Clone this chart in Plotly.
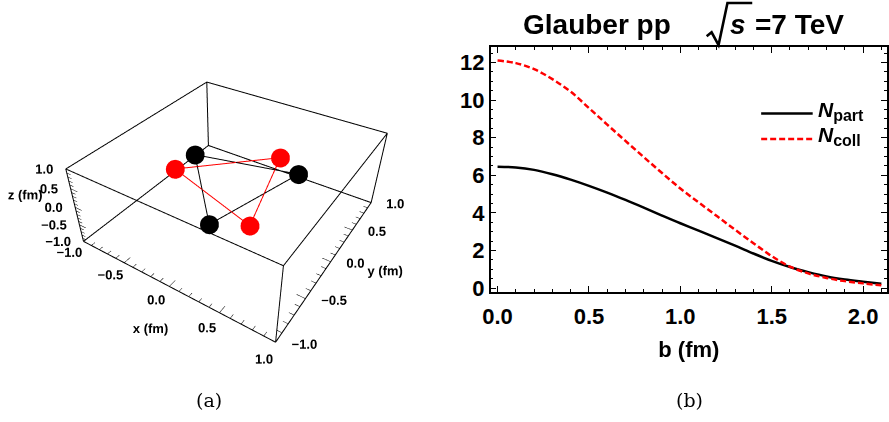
import itertools
import numpy as np
import plotly.graph_objects as go

# ---- Panel (a): one Glauber pp event, quark hot spots of the two protons (fm)
proton1_x = [-0.63, 0.39, 0.10]
proton1_y = [0.25, 0.51, -0.55]
proton1_z = [0.0, 0.0, 0.0]
proton2_x = [-0.64, 0.11, 0.39]
proton2_y = [-0.06, 0.67, -0.38]
proton2_z = [0.0, 0.0, 0.0]

box_range = [-1.0, 1.0]
box_labels = [-1.0, -0.5, 0.0, 0.5, 1.0]

# ---- Panel (b): N_part and N_coll versus impact parameter b
b_fm = [0.0, 0.1, 0.2, 0.3, 0.4, 0.5, 0.6, 0.7, 0.8, 0.9, 1.0,
        1.1, 1.2, 1.3, 1.4, 1.5, 1.6, 1.7, 1.8, 1.9, 2.0, 2.1]
n_part = [6.46, 6.42, 6.29, 6.06, 5.77, 5.44, 5.08, 4.69, 4.28, 3.86, 3.45,
          3.06, 2.66, 2.26, 1.84, 1.45, 1.12, 0.85, 0.62, 0.46, 0.34, 0.23]
n_coll = [12.11, 11.97, 11.65, 11.12, 10.45, 9.58, 8.70, 7.83, 6.97, 6.12, 5.30,
          4.56, 3.83, 3.10, 2.39, 1.70, 1.14, 0.78, 0.54, 0.37, 0.25, 0.15]

W, H = 889, 422
FONT = "Liberation Sans"
LABEL_FONT = dict(family=FONT, size=13, color="black", weight="bold")
lo, hi = box_range

fig = go.Figure()


def seg3d(pairs):
    xs, ys, zs = [], [], []
    for p, q in pairs:
        xs += [p[0], q[0], None]
        ys += [p[1], q[1], None]
        zs += [p[2], q[2], None]
    return xs, ys, zs


# ---- 3D bounding box (all 12 edges)
corners = list(itertools.product(box_range, repeat=3))
edges = [(c1, c2) for c1, c2 in itertools.combinations(corners, 2)
         if sum(a != b for a, b in zip(c1, c2)) == 1]
ex, ey, ez = seg3d(edges)
fig.add_trace(go.Scatter3d(x=ex, y=ey, z=ez, mode="lines",
                           line=dict(color="black", width=2),
                           hoverinfo="skip", showlegend=False, scene="scene"))

# ---- tick marks on the three labelled edges (major at labels, minor every 0.1)
tick_vals = [round(v, 1) for v in np.arange(lo, hi + 0.05, 0.1)]
ticks = []
for v in tick_vals:
    L = 0.08 if any(abs(v - m) < 1e-9 for m in box_labels) else 0.045
    ticks.append(((v, lo, lo), (v, lo + L, lo)))      # x edge
    ticks.append(((hi, v, lo), (hi - L, v, lo)))      # y edge
    ticks.append(((lo, lo, v), (lo + L, lo, v)))      # z edge
tx, ty, tz = seg3d(ticks)
fig.add_trace(go.Scatter3d(x=tx, y=ty, z=tz, mode="lines",
                           line=dict(color="black", width=1),
                           hoverinfo="skip", showlegend=False, scene="scene"))


def closed(v):
    return list(v) + [v[0]]


for xs, ys, zs, col in [(proton1_x, proton1_y, proton1_z, "black"),
                        (proton2_x, proton2_y, proton2_z, "#ff0000")]:
    fig.add_trace(go.Scatter3d(x=closed(xs), y=closed(ys), z=closed(zs),
                               mode="lines", line=dict(color=col, width=2),
                               hoverinfo="skip", showlegend=False, scene="scene"))
    fig.add_trace(go.Scatter3d(x=xs, y=ys, z=zs, mode="markers",
                               marker=dict(color=col, size=11, line=dict(width=0)),
                               showlegend=False, scene="scene"))


def fmt(v):
    s = f"{abs(v):.1f}"
    return ("\u2212" + s) if v < 0 else s


n = len(box_labels)
label_text = [fmt(v) for v in box_labels]

# tick labels, kept horizontal on screen
fig.add_trace(go.Scatter3d(x=box_labels, y=[lo - 0.17] * n, z=[lo] * n, mode="text",
                           text=label_text, textposition="middle center", textfont=LABEL_FONT,
                           hoverinfo="skip", showlegend=False, scene="scene"))
fig.add_trace(go.Scatter3d(x=[hi + 0.03] * n, y=box_labels, z=[lo] * n, mode="text",
                           text=label_text, textposition="middle right", textfont=LABEL_FONT,
                           hoverinfo="skip", showlegend=False, scene="scene"))
fig.add_trace(go.Scatter3d(x=[lo] * n, y=[lo] * n, z=box_labels, mode="text",
                           text=label_text, textposition="middle left", textfont=LABEL_FONT,
                           hoverinfo="skip", showlegend=False, scene="scene"))
# axis titles
fig.add_trace(go.Scatter3d(x=[0.15, hi + 0.22, lo - 0.25], y=[lo - 0.42, 0.0, lo],
                           z=[lo, lo, 0.05], mode="text",
                           text=["x (fm)", "y (fm)", "z (fm)"],
                           textposition=["middle center", "middle right", "middle left"],
                           textfont=LABEL_FONT, hoverinfo="skip", showlegend=False,
                           scene="scene"))

# scene extent: room around the box for the labels, same scale per fm as the box
PAD_XY, PAD_Z = 1.75, 1.05
hidden = dict(visible=False, showspikes=False, autorange=False)

# ---- Panel (b) curves
fig.add_trace(go.Scatter(x=b_fm, y=n_part, mode="lines", line_shape="spline",
                         line=dict(color="black", width=2.5), showlegend=False,
                         name="N_part"))
fig.add_trace(go.Scatter(x=b_fm, y=n_coll, mode="lines", line_shape="spline",
                         line=dict(color="#ff0000", width=2.5, dash="6px,3px"),
                         showlegend=False, name="N_coll"))

axis_common = dict(showline=True, linecolor="black", linewidth=1.6, mirror="ticks",
                   ticks="inside", ticklen=6, tickwidth=1.3, tickcolor="black",
                   showgrid=False, zeroline=False,
                   tickfont=dict(family=FONT, size=22, color="black", weight="bold"))


def px_x(v):
    return v / W


def px_y(v):
    return 1 - v / H


# legend drawn in the upper right of panel (b)
legend_rows = [("<b><i>N</i><sub><span style='font-size:16px'>part</span></sub></b>",
                dict(color="black", width=2.5), 116),
               ("<b><i>N</i><sub><span style='font-size:16px'>coll</span></sub></b>",
                dict(color="#ff0000", width=2.5, dash="6px,3px"), 142)]
shapes, annotations = [], []
for text, line, ypx in legend_rows:
    shapes.append(dict(type="line", xref="paper", yref="paper",
                       x0=px_x(760), x1=px_x(812), y0=px_y(ypx), y1=px_y(ypx), line=line))
    annotations.append(dict(text=text, x=px_x(815), y=px_y(ypx - 3), xref="paper",
                            yref="paper", showarrow=False, xanchor="left", yanchor="middle",
                            font=dict(family=FONT, size=21, color="black")))

# title: Glauber pp sqrt(s) = 7 TeV, with a drawn radical sign
TITLE_FONT = dict(family=FONT, size=28, color="black")
annotations += [
    dict(text="<b>Glauber pp</b>", x=px_x(671), y=px_y(25), xref="paper", yref="paper",
         showarrow=False, xanchor="right", yanchor="middle", font=TITLE_FONT),
    dict(text="<b><i>s</i></b>", x=px_x(737), y=px_y(25), xref="paper", yref="paper",
         showarrow=False, xanchor="center", yanchor="middle", font=TITLE_FONT),
    dict(text="<b>=7 TeV</b>", x=px_x(752), y=px_y(25), xref="paper", yref="paper",
         showarrow=False, xanchor="left", yanchor="middle", font=TITLE_FONT),
]
radical = [(705, 37), (710, 33), (717, 46), (726, 3), (751, 3)]
shapes.append(dict(type="path", xref="paper", yref="paper",
                   path="M " + " L ".join(f"{px_x(a):.5f},{px_y(b):.5f}" for a, b in radical),
                   line=dict(color="black", width=2.6)))

annotations += [
    dict(text="(a)", x=px_x(203), y=px_y(409), xref="paper", yref="paper",
         showarrow=False, xanchor="center", yanchor="middle",
         font=dict(family="DejaVu Serif", size=19, color="black")),
    dict(text="(b)", x=px_x(688), y=px_y(409), xref="paper", yref="paper",
         showarrow=False, xanchor="center", yanchor="middle",
         font=dict(family="DejaVu Serif", size=19, color="black")),
]

fig.update_layout(
    width=W, height=H, margin=dict(l=0, r=0, t=0, b=0),
    paper_bgcolor="white", plot_bgcolor="white", showlegend=False,
    scene=dict(domain=dict(x=[0.0, 0.495], y=[0.02, 1.0]),
               xaxis=dict(range=[-PAD_XY, PAD_XY], **hidden),
               yaxis=dict(range=[-PAD_XY, PAD_XY], **hidden),
               zaxis=dict(range=[-PAD_Z, PAD_Z], **hidden),
               aspectmode="manual",
               aspectratio=dict(x=PAD_XY, y=PAD_XY, z=0.4 * PAD_Z),
               camera=dict(eye=dict(x=0.952, y=-1.523, z=1.322),
                           center=dict(x=-0.025, y=-0.034, z=-0.075),
                           up=dict(x=0, y=0, z=1)),
               bgcolor="rgba(0,0,0,0)"),
    xaxis=dict(domain=[487 / W, 887 / W], range=[-0.038, 2.131],
               tickvals=[0.0, 0.5, 1.0, 1.5, 2.0], tickformat=".1f", ticklabelstandoff=4,
               minor=dict(ticks="inside", ticklen=3, dtick=0.1, tickcolor="black", tickwidth=1.2),
               title=dict(text="<b>b (fm)</b>", standoff=14,
                          font=dict(family=FONT, size=22, color="black")),
               **axis_common),
    yaxis=dict(domain=[1 - 298 / H, 1 - 48 / H], range=[-0.19, 12.83],
               tickvals=[0, 2, 4, 6, 8, 10, 12],
               minor=dict(ticks="inside", ticklen=3, dtick=0.5, tickcolor="black", tickwidth=1.2),
               **axis_common),
    shapes=shapes,
    annotations=annotations,
)

fig.write_html("out.html")
